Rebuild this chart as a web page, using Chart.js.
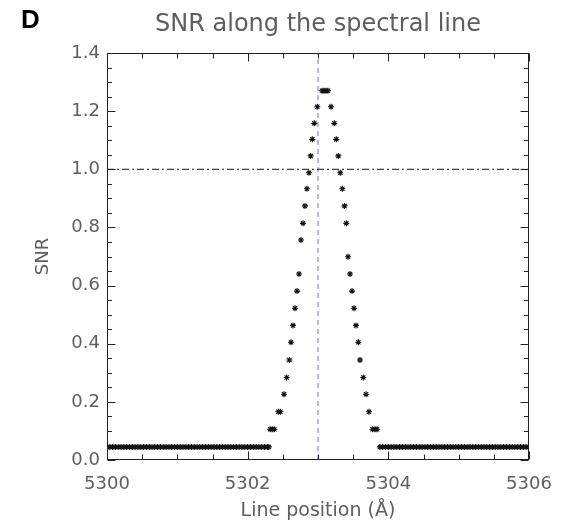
<!DOCTYPE html>
<html>
<head>
<meta charset="utf-8">
<script src="https://cdn.jsdelivr.net/npm/chart.js@4/dist/chart.umd.min.js"></script>
<style>
  html, body { margin: 0; padding: 0; background: #fff; }
  #wrap { width: 572px; height: 521px; }
</style>
</head>
<body>
<div id="wrap"><canvas id="chart" width="572" height="521"></canvas></div>
<script>
// SNR; the flat wings sit at one level
const BASE_SNR = 0.045;
const baseLeftX = [5300.00,5300.04,5300.08,5300.12,5300.16,5300.20,5300.24,5300.28,5300.32,5300.36,
  5300.40,5300.44,5300.48,5300.52,5300.56,5300.60,5300.64,5300.68,5300.72,5300.76,
  5300.80,5300.84,5300.88,5300.92,5300.96,5301.00,5301.04,5301.08,5301.12,5301.16,
  5301.20,5301.24,5301.28,5301.32,5301.36,5301.40,5301.44,5301.48,5301.52,5301.56,
  5301.60,5301.64,5301.68,5301.72,5301.76,5301.80,5301.84,5301.88,5301.92,5301.96,
  5302.00,5302.04,5302.08,5302.12,5302.16,5302.20,5302.24,5302.28,5302.30];
const baseRightX = [5303.88,5303.92,5303.96,5304.00,5304.04,5304.08,5304.12,5304.16,5304.20,5304.24,
  5304.28,5304.32,5304.36,5304.40,5304.44,5304.48,5304.52,5304.56,5304.60,5304.64,
  5304.68,5304.72,5304.76,5304.80,5304.84,5304.88,5304.92,5304.96,5305.00,5305.04,
  5305.08,5305.12,5305.16,5305.20,5305.24,5305.28,5305.32,5305.36,5305.40,5305.44,
  5305.48,5305.52,5305.56,5305.60,5305.64,5305.68,5305.72,5305.76,5305.80,5305.84,
  5305.88,5305.92,5305.96,5306.00];

const peakX = [5302.32,5302.35,5302.38,5302.435,5302.465,5302.517,5302.555,5302.592,5302.616,5302.645,
  5302.673,5302.702,5302.730,5302.758,5302.787,5302.815,5302.843,5302.872,5302.896,5302.919,
  5302.947,5302.99,5303.057,5303.085,5303.113,5303.142,5303.185,5303.232,5303.260,5303.289,
  5303.317,5303.346,5303.377,5303.402,5303.427,5303.455,5303.484,5303.512,5303.540,5303.573,
  5303.597,5303.644,5303.683,5303.725,5303.775,5303.81,5303.84];
const peakSnr = [0.106,0.106,0.106,0.166,0.166,0.226,0.284,0.344,0.405,0.463,
  0.522,0.581,0.640,0.757,0.814,0.874,0.933,0.988,1.046,1.103,
  1.158,1.215,1.27,1.27,1.27,1.27,1.215,1.158,1.103,1.046,
  0.988,0.933,0.874,0.814,0.699,0.640,0.581,0.522,0.463,0.405,
  0.344,0.284,0.226,0.166,0.106,0.106,0.106];

const lineCentre = 5303.0;
const snrOne = 1.0;

const xRange = [5300, 5306];
const yRange = [0, 1.4];
const xMajor = [5300, 5302, 5304, 5306];
const xMinor = [5300.5, 5301, 5301.5, 5302.5, 5303, 5303.5, 5304.5, 5305, 5305.5];
const yMajor = [0, 0.2, 0.4, 0.6, 0.8, 1.0, 1.2, 1.4];
const yMinor = [0.05, 0.1, 0.15, 0.25, 0.3, 0.35, 0.45, 0.5, 0.55, 0.65, 0.7, 0.75,
  0.85, 0.9, 0.95, 1.05, 1.1, 1.15, 1.25, 1.3, 1.35];

const points = []
  .concat(baseLeftX.map(x => ({ x, y: BASE_SNR })))
  .concat(peakX.map((x, i) => ({ x, y: peakSnr[i] })))
  .concat(baseRightX.map(x => ({ x, y: BASE_SNR })));

const GREY = "#5e5e5e";
Chart.defaults.font.family = "DejaVu Sans";
Chart.defaults.color = GREY;

// box round the plot with inward ticks on all four sides, plus the panel letter
const frame = {
  id: "frame",
  afterDatasetsDraw(chart) {
    const { ctx, chartArea: a, scales: { x, y } } = chart;
    const L = Math.round(a.left) + 0.5, R = Math.round(a.right) - 0.5;
    const T = Math.round(a.top) + 0.5, B = Math.round(a.bottom) - 0.5;
    ctx.save();
    ctx.strokeStyle = "#222";
    ctx.lineWidth = 1;
    ctx.strokeRect(L, T, R - L, B - T);
    ctx.beginPath();
    const xt = (v, len) => {
      const px = Math.round(x.getPixelForValue(v)) + 0.5;
      ctx.moveTo(px, B); ctx.lineTo(px, B - len);
      ctx.moveTo(px, T); ctx.lineTo(px, T + len);
    };
    const yt = (v, len) => {
      const py = Math.round(y.getPixelForValue(v)) + 0.5;
      ctx.moveTo(L, py); ctx.lineTo(L + len, py);
      ctx.moveTo(R, py); ctx.lineTo(R - len, py);
    };
    xMajor.forEach(v => xt(v, 8));
    xMinor.forEach(v => xt(v, 5));
    yMajor.forEach(v => yt(v, 8));
    yMinor.forEach(v => yt(v, 4.5));
    ctx.stroke();
    ctx.restore();
  },
  afterDraw(chart) {
    const ctx = chart.ctx;
    ctx.save();
    ctx.fillStyle = "#000";
    ctx.font = "bold 26px 'Liberation Sans'";
    ctx.textBaseline = "alphabetic";
    ctx.fillText("D", 21, 28);
    ctx.restore();
  }
};

new Chart(document.getElementById("chart"), {
  type: "scatter",
  data: {
    datasets: [
      {
        label: "SNR",
        data: points,
        pointStyle: "star",
        pointRadius: 3,
        borderColor: "#111",
        backgroundColor: "#111",
        borderWidth: 1.1,
        showLine: false
      },
      {
        type: "line",
        label: "SNR = 1",
        data: [{ x: xRange[0], y: snrOne }, { x: xRange[1], y: snrOne }],
        borderColor: "#111",
        borderWidth: 1,
        borderDash: [7, 3, 2, 3],
        pointRadius: 0
      },
      {
        type: "line",
        label: "line centre",
        data: [{ x: lineCentre, y: yRange[0] }, { x: lineCentre, y: yRange[1] }],
        borderColor: "#6f6fd6",
        borderWidth: 1,
        borderDash: [5, 4],
        pointRadius: 0
      }
    ]
  },
  options: {
    responsive: false,
    animation: false,
    layout: { padding: { left: 0, right: 43, top: 0, bottom: 0 } },
    plugins: {
      legend: { display: false },
      tooltip: { enabled: false },
      title: {
        display: true,
        fullSize: false,
        text: "SNR along the spectral line",
        color: GREY,
        font: { size: 24, weight: "normal", lineHeight: 1.2 },
        padding: { top: 10, bottom: 14.2 }
      }
    },
    scales: {
      x: {
        type: "linear",
        min: xRange[0],
        max: xRange[1],
        afterFit: s => { s.height = 61; },
        afterBuildTicks: s => { s.ticks = xMajor.map(v => ({ value: v })); },
        grid: { display: false, drawTicks: false },
        border: { display: false },
        ticks: { padding: 14, color: GREY, font: { size: 18 }, callback: v => String(v), maxRotation: 0 },
        title: {
          display: true,
          text: "Line position (Å)",
          color: GREY,
          font: { size: 19, lineHeight: 1.0 },
          padding: { top: 0, bottom: 0 }
        }
      },
      y: {
        type: "linear",
        min: yRange[0],
        max: yRange[1],
        afterFit: s => { s.width = 107; },
        afterBuildTicks: s => { s.ticks = yMajor.map(v => ({ value: v })); },
        grid: { display: false, drawTicks: false },
        border: { display: false },
        ticks: { padding: 7, color: GREY, font: { size: 18 }, callback: v => v.toFixed(1) },
        title: {
          display: true,
          text: "SNR",
          color: GREY,
          font: { size: 18, lineHeight: 1.2 },
          padding: { top: 33, bottom: 0 }
        }
      }
    }
  },
  plugins: [frame]
});
</script>
</body>
</html>
